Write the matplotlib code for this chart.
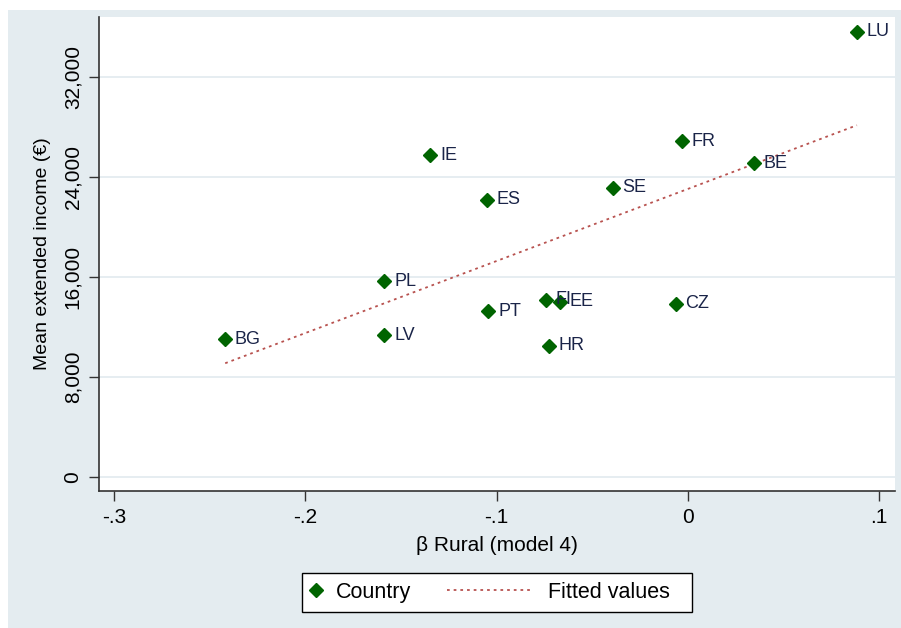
import matplotlib.pyplot as plt
import numpy as np
from matplotlib.patches import Rectangle
from matplotlib.lines import Line2D

plt.rcParams['font.family'] = ['Liberation Sans', 'DejaVu Sans']

# country codes, rural coefficient and mean extended income
countries = ['LU', 'FR', 'BE', 'IE', 'SE', 'ES', 'PL', 'FI', 'EE', 'CZ', 'PT', 'LV', 'BG', 'HR']
beta_rural = [0.0885, -0.003, 0.0346, -0.1346, -0.0393, -0.1052, -0.1586,
              -0.0743, -0.067, -0.0063, -0.1042, -0.1586, -0.2419, -0.0728]
income = [35600, 26880, 25120, 25760, 23120, 22160, 15680,
          14160, 14000, 13840, 13280, 11360, 11040, 10480]

x_ticks = [-0.3, -0.2, -0.1, 0.0, 0.1]
x_tick_labels = ['-.3', '-.2', '-.1', '0', '.1']
y_ticks = [0, 8000, 16000, 24000, 32000]

bg = '#e4ecf0'
green = '#006400'
fit_color = '#b8524f'
label_color = '#1a2448'
fit_style = (0, (1.5, 2.2))

W, H = 901, 628
fig = plt.figure(figsize=(W / 100, H / 100), dpi=100)
fig.patch.set_facecolor('white')
fig.patches.append(Rectangle((8 / W, 0), 1, 1 - 10 / H, transform=fig.transFigure,
                             facecolor=bg, edgecolor='none', zorder=-10))

ax = fig.add_axes([99 / W, 1 - 491 / H, (895 - 99) / W, (491 - 17) / H])
ax.set_facecolor('white')

x = np.array(beta_rural)
y = np.array(income)

# linear fit
b, a = np.polyfit(x, y, 1)
xf = np.array([x.min(), x.max()])
ax.plot(xf, a + b * xf, color=fit_color, lw=1.3, linestyle=fit_style, zorder=2)

ax.plot(x, y, linestyle='none', marker='D', ms=7.5, color=green, zorder=3)
for c, xi, yi in zip(countries, x, y):
    ax.annotate(c, (xi, yi), xytext=(7, 0), textcoords='offset points',
                va='center', ha='left', fontsize=13, color=label_color, zorder=4)

ax.set_xlim(-0.3079, 0.1084)
ax.set_ylim(-1120, 36800)
ax.set_xticks(x_ticks)
ax.set_xticklabels(x_tick_labels)
ax.set_yticks(y_ticks)
ax.set_yticklabels([f'{v:,}' for v in y_ticks], rotation=90, va='center')
ax.tick_params(axis='both', labelsize=15, colors='#333333', length=7, width=1.0, labelcolor='black')
ax.tick_params(axis='x', pad=5)
ax.tick_params(axis='y', pad=5)

ax.grid(axis='y', color=bg, lw=1.3)
ax.set_axisbelow(True)
for s in ['top', 'right']:
    ax.spines[s].set_visible(False)
for s in ['left', 'bottom']:
    ax.spines[s].set_color('#333333')
    ax.spines[s].set_linewidth(1.2)

ax.set_xlabel('β Rural (model 4)', fontsize=15, labelpad=7)
ax.set_ylabel('Mean extended income (€)', fontsize=14, labelpad=9)

# legend: one white box holding two entries with different handle lengths
yc = 1 - 592.5 / H
fig.patches.append(Rectangle((302 / W, 1 - 612 / H), 390 / W, 39 / H, transform=fig.transFigure,
                             facecolor='white', edgecolor='black', lw=1.0, zorder=5))
leg1 = fig.legend([Line2D([], [], linestyle='none', marker='D', ms=7, color=green)], ['Country'],
                  loc='center left', bbox_to_anchor=(305 / W, yc), fontsize=15.5, frameon=False,
                  handlelength=1.0, handletextpad=0.45, borderpad=0, borderaxespad=0)
leg2 = fig.legend([Line2D([], [], color=fit_color, lw=1.3, linestyle=fit_style)], ['Fitted values'],
                  loc='center left', bbox_to_anchor=(447 / W, yc), fontsize=15.5, frameon=False,
                  handlelength=3.9, handletextpad=0.8, borderpad=0, borderaxespad=0)
leg1.set_zorder(6)
leg2.set_zorder(6)

fig.savefig('out.png', dpi=100, facecolor=fig.get_facecolor())
